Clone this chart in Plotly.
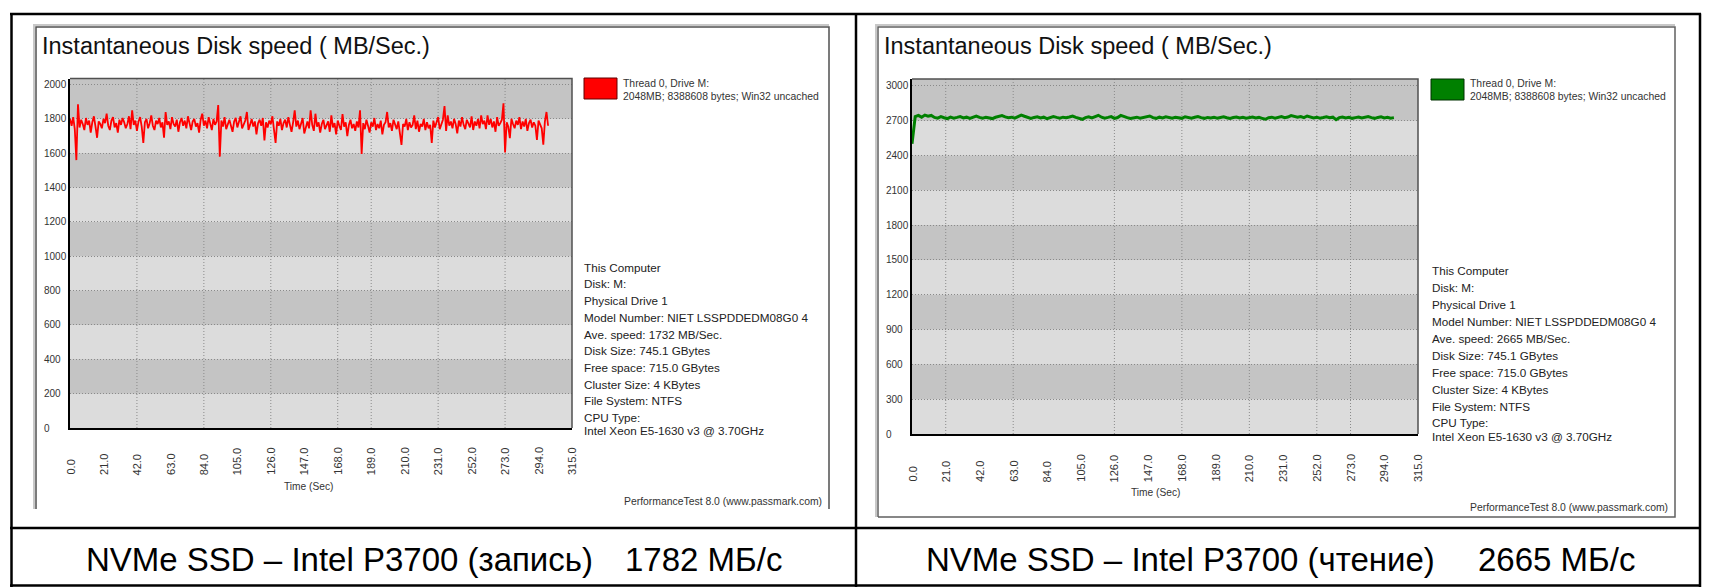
import plotly.graph_objects as go

W, H = 1710, 587
FONT = "Liberation Sans, Arial, sans-serif"

# ---------------- data ----------------
x_tick_values = [0, 21, 42, 63, 84, 105, 126, 147, 168, 189, 210, 231, 252, 273, 294, 315]
x_tick_labels = ["0.0", "21.0", "42.0", "63.0", "84.0", "105.0", "126.0", "147.0", "168.0",
                 "189.0", "210.0", "231.0", "252.0", "273.0", "294.0", "315.0"]

write_y_ticks = [0, 200, 400, 600, 800, 1000, 1200, 1400, 1600, 1800, 2000]
read_y_ticks = [0, 300, 600, 900, 1200, 1500, 1800, 2100, 2400, 2700, 3000]

write_grid_x = [42, 84, 126, 168, 189, 231, 273]
read_grid_x = [21, 63, 126, 168, 210, 252, 273]

# write speed, one sample per second (MB/s)
write_speed = [
    1800, 1760, 1810, 1740, 1560, 1885, 1750, 1795, 1770, 1735, 1805, 1765, 1790, 1720, 1780, 1815, 1755, 1690, 1785, 1770,
    1745, 1800, 1775, 1830, 1760, 1735, 1790, 1810, 1750, 1775, 1720, 1795, 1765, 1805, 1780, 1745, 1770, 1815, 1740, 1850,
    1765, 1790, 1730, 1785, 1810, 1755, 1660, 1780, 1800, 1745, 1775, 1820, 1760, 1735, 1790, 1770, 1805, 1750, 1780, 1690,
    1840, 1765, 1785, 1740, 1810, 1770, 1755, 1795, 1725, 1780, 1805, 1760, 1790, 1745, 1815, 1770, 1735, 1785, 1800, 1755,
    1775, 1720, 1795, 1830, 1760, 1790, 1745, 1810, 1770, 1735, 1800, 1765, 1785, 1880, 1580, 1790, 1755, 1810, 1740, 1775,
    1795, 1760, 1725, 1785, 1805, 1750, 1780, 1815, 1745, 1770, 1790, 1840, 1735, 1765, 1800, 1755, 1785, 1710, 1775, 1795,
    1760, 1805, 1675, 1780, 1750, 1790, 1770, 1815, 1740, 1660, 1785, 1760, 1800, 1735, 1775, 1795, 1750, 1810, 1765, 1725,
    1780, 1850, 1755, 1790, 1740, 1770, 1805, 1715, 1760, 1785, 1745, 1850, 1765, 1730, 1830, 1755, 1780, 1720, 1770, 1795,
    1740, 1765, 1785, 1725, 1820, 1750, 1775, 1710, 1790, 1760, 1735, 1828, 1755, 1780, 1700, 1765, 1795, 1745, 1770, 1730,
    1785, 1750, 1850, 1595, 1775, 1740, 1795, 1760, 1720, 1780, 1755, 1805, 1735, 1770, 1745, 1790, 1710, 1765, 1780, 1840,
    1750, 1775, 1730, 1795, 1760, 1740, 1785, 1720, 1648, 1770, 1755, 1800, 1735, 1780, 1750, 1765, 1820, 1740, 1790, 1725,
    1770, 1755, 1800, 1735, 1780, 1745, 1765, 1660, 1790, 1750, 1775, 1810, 1740, 1765, 1795, 1875, 1730, 1820, 1760, 1785,
    1745, 1800, 1770, 1715, 1790, 1755, 1810, 1765, 1740, 1795, 1775, 1750, 1815, 1735, 1785, 1760, 1800, 1745, 1820, 1770,
    1790, 1740, 1820, 1765, 1800, 1750, 1785, 1725, 1810, 1760, 1775, 1795, 1890, 1605, 1780, 1755, 1688, 1800, 1770, 1745,
    1790, 1765, 1810, 1740, 1785, 1755, 1800, 1730, 1775, 1795, 1750, 1780, 1760, 1677, 1790, 1770, 1745, 1650, 1785, 1840,
    1760,
]
write_time = list(range(len(write_speed)))

# read speed, one sample every 2 seconds (MB/s)
read_speed = [
    2500, 2735, 2745, 2730, 2748, 2738, 2745, 2728, 2722, 2735,
    2725, 2718, 2730, 2722, 2728, 2735, 2724, 2730, 2720, 2733,
    2740, 2728, 2722, 2730, 2726, 2718, 2729, 2736, 2744, 2732,
    2725, 2730, 2722, 2735, 2748, 2738, 2726, 2720, 2728, 2733,
    2724, 2730, 2718, 2726, 2735, 2728, 2722, 2730, 2725, 2732,
    2740, 2728, 2720, 2712, 2726, 2733, 2724, 2738, 2746, 2730,
    2722, 2728, 2735, 2720, 2727, 2745, 2732, 2726, 2719, 2724,
    2730, 2722, 2728, 2735, 2740, 2726, 2720, 2730, 2724, 2733,
    2728, 2721, 2730, 2725, 2720, 2734, 2727, 2722, 2729, 2735,
    2726, 2720, 2728, 2724, 2730, 2722, 2728, 2733, 2725, 2719,
    2727, 2732, 2724, 2729, 2721, 2726, 2731, 2723, 2728, 2720,
    2712, 2725, 2730, 2722, 2728, 2735, 2726, 2731, 2743, 2738,
    2729, 2735, 2726, 2740, 2731, 2724, 2730, 2722, 2727, 2733,
    2725, 2730, 2708, 2726, 2732, 2724, 2729, 2720, 2726, 2731,
    2723, 2728, 2735, 2726, 2720, 2728, 2733, 2724, 2729, 2722,
    2726,
]
read_time = [2 * i for i in range(len(read_speed))]

series_name = ["Thread 0, Drive M:", "2048MB; 8388608 bytes; Win32 uncached"]
write_info = ["This Computer", "Disk: M:", "Physical Drive 1", "Model Number: NIET LSSPDDEDM08G0 4",
              "Ave. speed: 1732 MB/Sec.", "Disk Size: 745.1 GBytes", "Free space: 715.0 GBytes",
              "Cluster Size: 4 KBytes", "File System: NTFS", "CPU Type:", "Intel Xeon E5-1630 v3 @ 3.70GHz"]
read_info = ["This Computer", "Disk: M:", "Physical Drive 1", "Model Number: NIET LSSPDDEDM08G0 4",
             "Ave. speed: 2665 MB/Sec.", "Disk Size: 745.1 GBytes", "Free space: 715.0 GBytes",
             "Cluster Size: 4 KBytes", "File System: NTFS", "CPU Type:", "Intel Xeon E5-1630 v3 @ 3.70GHz"]
chart_title = "Instantaneous Disk speed ( MB/Sec.)"
footer = "PerformanceTest 8.0 (www.passmark.com)"
x_title = "Time (Sec)"
captions = [("NVMe SSD – Intel P3700 (запись)", "1782 МБ/с"),
            ("NVMe SSD – Intel P3700 (чтение)", "2665 МБ/с")]


# ---------------- helpers ----------------
def px(x):
    return x / W


def py(y):
    return 1 - y / H


GRID_C = "#8a8a8a"
GRID_DASH = "1px,2px"
BAND_C = "#dcdcdc"
BG_C = "#c4c4c4"

fig = go.Figure()
fig.add_trace(go.Scatter(x=write_time, y=write_speed, mode="lines", name=series_name[0],
                         line=dict(color="#ff0000", width=1.8), xaxis="x", yaxis="y",
                         hoverinfo="skip"))
fig.add_trace(go.Scatter(x=read_time, y=read_speed, mode="lines", name=series_name[0],
                         line=dict(color="#008000", width=3), xaxis="x2", yaxis="y2",
                         hoverinfo="skip"))

panels = [
    dict(xa="x", ya="y", box=(70, 572, 78.5, 428), ymax=2035, yt=write_y_ticks, gx=write_grid_x),
    dict(xa="x2", ya="y2", box=(912, 1418, 79, 434), ymax=3059, yt=read_y_ticks, gx=read_grid_x),
]

layout = dict(width=W, height=H, margin=dict(l=0, r=0, t=0, b=0, pad=0),
              paper_bgcolor="white", plot_bgcolor=BG_C, showlegend=False)
for i, p in enumerate(panels):
    xl, xr, yt, yb = p["box"]
    suffix = "" if i == 0 else "2"
    layout["xaxis" + suffix] = dict(domain=[px(xl), px(xr)], range=[0, 315], showgrid=False,
                                    zeroline=False, showline=True, linecolor="black", linewidth=2,
                                    showticklabels=False, ticks="", fixedrange=True,
                                    anchor="y" + suffix)
    layout["yaxis" + suffix] = dict(domain=[py(yb), py(yt)], range=[0, p["ymax"]], tickvals=p["yt"],
                                    showticklabels=False, showgrid=True, gridcolor=GRID_C,
                                    griddash=GRID_DASH, gridwidth=1, zeroline=False, showline=True,
                                    linecolor="black", linewidth=2, ticks="", fixedrange=True,
                                    anchor="x" + suffix)
fig.update_layout(**layout)

shapes = []
annotations = []

for i, p in enumerate(panels):
    xa, ya = p["xa"], p["ya"]
    yt = p["yt"]
    xl, xr, ytop, ybot = p["box"]
    # dotted bands
    for k in range(0, len(yt) - 1, 2):
        shapes.append(dict(type="rect", xref=xa, yref=ya, x0=0, x1=315, y0=yt[k], y1=yt[k + 1],
                           fillcolor=BAND_C, line=dict(width=0), layer="below"))
    # vertical grid
    for gx in p["gx"]:
        shapes.append(dict(type="line", xref=xa, yref=ya, x0=gx, x1=gx, y0=0, y1=p["ymax"],
                           line=dict(color=GRID_C, width=1, dash=GRID_DASH), layer="below"))
    # top/right border
    shapes.append(dict(type="path", xref="paper", yref="paper",
                       path="M %f,%f L %f,%f L %f,%f" % (px(xl), py(ytop), px(xr), py(ytop), px(xr), py(ybot)),
                       line=dict(color="#505050", width=1.5), layer="above"))


def path(points):
    return "M " + " L ".join(f"{px(x)},{py(y)}" for x, y in points)


shapes += [
    dict(type="path", xref="paper", yref="paper", path=path([(34, 509), (34, 25), (829, 25)]),
         line=dict(color="#c8c8c8", width=2)),
    dict(type="path", xref="paper", yref="paper", path=path([(36, 509), (36, 27), (829, 27), (829, 509)]),
         line=dict(color="#505050", width=1.5)),
    dict(type="path", xref="paper", yref="paper", path=path([(876, 517), (876, 25), (1675, 25)]),
         line=dict(color="#c8c8c8", width=2)),
    dict(type="path", xref="paper", yref="paper",
         path=path([(878, 517), (878, 27), (1675, 27), (1675, 517), (878, 517)]),
         line=dict(color="#606060", width=1.5)),
]

# table lines
for (x0, y0, x1, y1) in [(11.5, 13.5, 11.5, 587), (10, 14, 1701, 14), (1700, 13.5, 1700, 587),
                         (856, 13.5, 856, 587), (10, 528, 1701, 528), (10, 585.5, 1701, 585.5)]:
    shapes.append(dict(type="line", xref="paper", yref="paper", x0=px(x0), x1=px(x1), y0=py(y0), y1=py(y1),
                       line=dict(color="black", width=2.5)))


def txt(text, x, y, size, color="#222222", xanchor="left", yanchor="middle"):
    annotations.append(dict(text=text, x=px(x), y=py(y), xref="paper", yref="paper",
                            xanchor=xanchor, yanchor=yanchor, showarrow=False,
                            font=dict(family=FONT, size=size, color=color)))


panel_text = [
    dict(title=(40, 45.5), yl=42, xlab_y=477, xt=(308, 486.7), leg_box=(584, 617, 78, 99), leg_c="#ff0000",
         leg_line="#600000", leg_txt=(621, [83, 96]), info_x=582,
         info_y=[267, 284, 300.7, 317, 334, 350.7, 367, 384, 400.7, 417, 430.7], info=write_info,
         foot=(824, 501), cap=(84, 784, 559.5)),
    dict(title=(882, 45.5), yl=884, xlab_y=484, xt=(1155, 492.7), leg_box=(1431, 1464, 79, 100), leg_c="#008000",
         leg_line="#003000", leg_txt=(1468, [83, 96]), info_x=1430,
         info_y=[270.5, 287.3, 304.3, 321.3, 338.3, 355.3, 372.3, 389.3, 406, 422.7, 436], info=read_info,
         foot=(1670, 507.7), cap=(924, 1637, 559.5)),
]

for i, (p, t) in enumerate(zip(panels, panel_text)):
    xa, ya = p["xa"], p["ya"]
    txt(chart_title, t["title"][0], t["title"][1], 23.5, color="#111111")
    for v in p["yt"]:
        annotations.append(dict(text=str(v), x=px(t["yl"]), y=v, xref="paper", yref=ya, xanchor="left",
                                yanchor="middle", showarrow=False,
                                font=dict(family=FONT, size=10, color="#333333")))
    for v, lab in zip(x_tick_values, x_tick_labels):
        annotations.append(dict(text=lab, x=v, y=py(t["xlab_y"]), xref=xa, yref="paper", xanchor="center",
                                yanchor="bottom", textangle=-90, showarrow=False,
                                font=dict(family=FONT, size=11, color="#333333")))
    txt(x_title, t["xt"][0], t["xt"][1], 10.2, color="#333333", xanchor="center")
    bx0, bx1, by0, by1 = t["leg_box"]
    shapes.append(dict(type="rect", xref="paper", yref="paper", x0=px(bx0), x1=px(bx1), y0=py(by1), y1=py(by0),
                       fillcolor=t["leg_c"], line=dict(color=t["leg_line"], width=1)))
    for line_text, ly in zip(series_name, t["leg_txt"][1]):
        txt(line_text, t["leg_txt"][0], ly, 10.4, color="#333333")
    for line_text, ly in zip(t["info"], t["info_y"]):
        txt(line_text, t["info_x"], ly, 11.7, color="#222222")
    txt(footer, t["foot"][0], t["foot"][1], 10.4, color="#333333", xanchor="right")
    cl, cr, cy = t["cap"]
    txt(captions[i][0], cl, cy, 33, color="black")
    txt(captions[i][1], cr, cy, 33, color="black", xanchor="right")

fig.update_layout(shapes=shapes, annotations=annotations)
fig.write_html("out.html", config={"displayModeBar": False},
               post_script="document.body.style.margin='0';document.body.style.overflow='hidden';")
